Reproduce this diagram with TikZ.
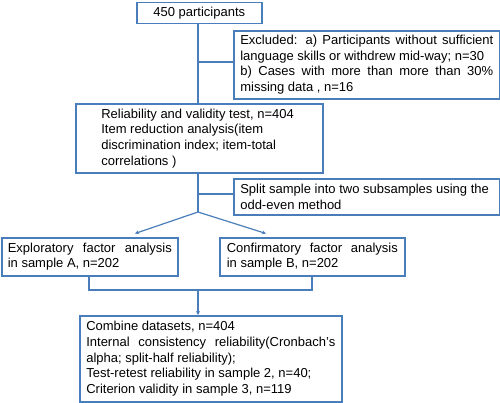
\documentclass[tikz,border=0pt]{standalone}
\usepackage{fontspec}
\setmainfont{Liberation Sans}
\usetikzlibrary{arrows.meta}
\definecolor{boxblue}{HTML}{4A7EBB}
\begin{document}
\begin{tikzpicture}[x=1pt,y=-1pt,
  box/.style={draw=boxblue, line width=1.6pt, rectangle, inner sep=0pt, anchor=north west,
    font=\fontsize{13}{15.6}\selectfont},
  conn/.style={draw=boxblue, line width=1.2pt},
  arr/.style={conn, -{Stealth[length=4pt,width=4pt]}}]
\useasboundingbox (0,0) rectangle (500,402);
\newcommand{\jl}[2]{\makebox[#1pt][s]{#2}}
% boxes
\node[box, minimum width=125pt, minimum height=21pt] (p) at (136,1.5) {450 participants};
\node[box, minimum width=266pt, minimum height=68pt, align=left] (ex) at (233,30)
  {\parbox{253pt}{\raggedright\jl{253}{Excluded: a) Participants without sufficient}\\
   language skills or withdrew mid-way; n=30\\
   \jl{253}{b) Cases with more than more than 30\%}\\
   missing data , n=16}};
\node[box, minimum width=247pt, minimum height=69pt] (rv) at (75,103)
  {\parbox{196pt}{\raggedright Reliability and validity test, n=404\\
   Item reduction analysis(item\\
   discrimination index; item-total\\
   correlations )}};
\node[box, minimum width=266pt, minimum height=36pt] (sp) at (233,178)
  {\parbox{253pt}{\raggedright Split sample into two subsamples using the\\
   odd-even method}};
\node[box, minimum width=176pt, minimum height=38pt] (efa) at (1,237)
  {\parbox{164pt}{\raggedright\jl{164}{Exploratory factor analysis}\\
   in sample A, n=202}};
\node[box, minimum width=185pt, minimum height=38pt] (cfa) at (219,237)
  {\parbox{171pt}{\raggedright\jl{171}{Confirmatory factor analysis}\\
   in sample B, n=202}};
\node[box, minimum width=262pt, minimum height=86pt] (cb) at (79,315)
  {\parbox{249pt}{\raggedright Combine datasets, n=404\\
   \jl{249}{Internal consistency reliability(Cronbach's}\\
   alpha; split-half reliability);\\
   Test-retest reliability in sample 2, n=40;\\
   Criterion validity in sample 3, n=119}};
% coordinates
\coordinate (j1) at (198,62);
\coordinate (j2) at (198,194);
\coordinate (j3) at (198,212);
\coordinate (la) at (135,233.5);
\coordinate (ra) at (266,233.5);
\coordinate (bl) at (89,290);
\coordinate (br) at (312,290);
\coordinate (bm) at (198,290);
% connectors
\draw[conn] (p.south -| j1) -- (rv.north -| j1);
\draw[conn] (j1) -- (j1 -| ex.west);
\draw[conn] (rv.south -| j3) -- (j3);
\draw[conn] (j2) -- (j2 -| sp.west);
\draw[arr] (j3) -- (la);
\draw[arr] (j3) -- (ra);
\draw[conn] (efa.south -| bl) -- (bl) -- (br) -- (cfa.south -| br);
\draw[arr] (bm) -- (cb.north -| bm);
\end{tikzpicture}
\end{document}
